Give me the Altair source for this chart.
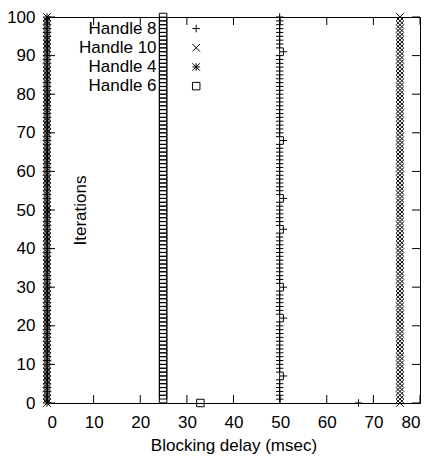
import altair as alt
import pandas as pd

# ---------------- data ----------------
iterations = list(range(101))

handle8 = [
    66.8, 49.9, 49.9, 49.9, 49.9, 49.9, 49.9, 50.7, 49.9, 49.9,
    49.9, 49.9, 49.9, 49.9, 49.9, 49.9, 49.9, 49.9, 49.9, 49.9,
    49.9, 49.9, 50.7, 49.9, 49.9, 49.9, 49.9, 49.9, 49.9, 49.9,
    50.7, 49.9, 49.9, 49.9, 49.9, 49.9, 49.9, 49.9, 49.9, 49.9,
    49.9, 49.9, 49.9, 49.9, 49.9, 50.7, 49.9, 49.9, 49.9, 49.9,
    49.9, 49.9, 49.9, 50.7, 49.9, 49.9, 49.9, 49.9, 49.9, 49.9,
    49.9, 49.9, 49.9, 49.9, 49.9, 49.9, 49.9, 49.9, 50.7, 49.9,
    49.9, 49.9, 49.9, 49.9, 49.9, 49.9, 49.9, 49.9, 49.9, 49.9,
    49.9, 49.9, 49.9, 49.9, 49.9, 49.9, 49.9, 49.9, 49.9, 49.9,
    49.9, 50.7, 49.9, 49.9, 49.9, 49.9, 49.9, 49.9, 49.9, 49.9,
    49.9,
]

handle10 = [
    75.7, 75.7, 75.7, 75.7, 75.7, 75.7, 75.7, 75.7, 75.7, 75.7,
    75.7, 75.7, 75.7, 75.7, 75.7, 75.7, 75.7, 75.7, 75.7, 75.7,
    75.7, 75.7, 75.7, 75.7, 75.7, 75.7, 75.7, 75.7, 75.7, 75.7,
    75.7, 75.7, 75.7, 75.7, 75.7, 75.7, 75.7, 75.7, 75.7, 75.7,
    75.7, 75.7, 75.7, 75.7, 75.7, 75.7, 75.7, 75.7, 75.7, 75.7,
    75.7, 75.7, 75.7, 75.7, 75.7, 75.7, 75.7, 75.7, 75.7, 75.7,
    75.7, 75.7, 75.7, 75.7, 75.7, 75.7, 75.7, 75.7, 75.7, 75.7,
    75.7, 75.7, 75.7, 75.7, 75.7, 75.7, 75.7, 75.7, 75.7, 75.7,
    75.7, 75.7, 75.7, 75.7, 75.7, 75.7, 75.7, 75.7, 75.7, 75.7,
    75.7, 75.7, 75.7, 75.7, 75.7, 75.7, 75.7, 75.7, 75.7, 75.7,
    75.7,
]

handle4 = [
    0, 0, 0, 0, 0, 0, 0, 0, 0, 0,
    0, 0, 0, 0, 0, 0, 0, 0, 0, 0,
    0, 0, 0, 0, 0, 0, 0, 0, 0, 0,
    0, 0, 0, 0, 0, 0, 0, 0, 0, 0,
    0, 0, 0, 0, 0, 0, 0, 0, 0, 0,
    0, 0, 0, 0, 0, 0, 0, 0, 0, 0,
    0, 0, 0, 0, 0, 0, 0, 0, 0, 0,
    0, 0, 0, 0, 0, 0, 0, 0, 0, 0,
    0, 0, 0, 0, 0, 0, 0, 0, 0, 0,
    0, 0, 0, 0, 0, 0, 0, 0, 0, 0,
    0,
]

handle6 = [
    32.9, 24.9, 24.9, 24.9, 24.9, 24.9, 24.9, 24.9, 24.9, 24.9,
    24.9, 24.9, 24.9, 24.9, 24.9, 24.9, 24.9, 24.9, 24.9, 24.9,
    24.9, 24.9, 24.9, 24.9, 24.9, 24.9, 24.9, 24.9, 24.9, 24.9,
    24.9, 24.9, 24.9, 24.9, 24.9, 24.9, 24.9, 24.9, 24.9, 24.9,
    24.9, 24.9, 24.9, 24.9, 24.9, 24.9, 24.9, 24.9, 24.9, 24.9,
    24.9, 24.9, 24.9, 24.9, 24.9, 24.9, 24.9, 24.9, 24.9, 24.9,
    24.9, 24.9, 24.9, 24.9, 24.9, 24.9, 24.9, 24.9, 24.9, 24.9,
    24.9, 24.9, 24.9, 24.9, 24.9, 24.9, 24.9, 24.9, 24.9, 24.9,
    24.9, 24.9, 24.9, 24.9, 24.9, 24.9, 24.9, 24.9, 24.9, 24.9,
    24.9, 24.9, 24.9, 24.9, 24.9, 24.9, 24.9, 24.9, 24.9, 24.9,
    24.9,
]

series_names = ["Handle 8", "Handle 10", "Handle 4", "Handle 6"]
series_values = [handle8, handle10, handle4, handle6]
x_ticks = [0, 10, 20, 30, 40, 50, 60, 70, 80]
y_ticks = [0, 10, 20, 30, 40, 50, 60, 70, 80, 90, 100]

# ---------------- build tables ----------------
rows = []
for name, vals in zip(series_names, series_values):
    for it, v in zip(iterations, vals):
        rows.append({"series": name, "delay": v, "iteration": it})
df = pd.DataFrame(rows)

legend_df = pd.DataFrame({"series": series_names, "rank": list(range(len(series_names)))})
xt_df = pd.DataFrame({"v": x_ticks})
yt_df = pd.DataFrame({"v": y_ticks})

# ---------------- styles ----------------
FONT = "Liberation Sans"
FS = 17
W, H = 373, 386
TICK = 8

PLUS = "M-1,0L1,0M0,-1L0,1"
CROSS = "M-1,-1L1,1M-1,1L1,-1"
STAR = "M-1,0L1,0M0,-1L0,1M-1,-1L1,1M-1,1L1,-1"

xs = alt.Scale(domain=[0, 80], nice=False, zero=False)
ys = alt.Scale(domain=[0, 100], nice=False, zero=False)
shape_scale = alt.Scale(domain=series_names, range=[PLUS, CROSS, STAR, "square"])

x_axis = alt.Axis(
    values=x_ticks, ticks=False, domain=False, grid=False,
    labelFont=FONT, labelFontSize=FS, labelPadding=11, labelColor="black",
    title="Blocking delay (msec)", titleFont=FONT, titleFontSize=FS,
    titleFontWeight="normal", titleColor="black", titlePadding=7,
)
y_axis = alt.Axis(
    values=y_ticks, ticks=False, domain=False, grid=False,
    labelFont=FONT, labelFontSize=FS, labelPadding=12, labelColor="black",
    title="Iterations", titleFont=FONT, titleFontSize=FS,
    titleFontWeight="normal", titleColor="black",
    titleX=33, titleY=H / 2, titleAngle=270, titleAlign="center",
    titleBaseline="middle",
)


def X(field):
    return alt.X(field, scale=xs, axis=x_axis)


def Y(field):
    return alt.Y(field, scale=ys, axis=y_axis)


points = alt.Chart(df).mark_point(
    filled=False, size=56, strokeWidth=1, color="black", opacity=1, clip=False
).encode(
    x=X("delay:Q"),
    y=Y("iteration:Q"),
    shape=alt.Shape("series:N", scale=shape_scale, legend=None),
)

legend_base = alt.Chart(legend_df).transform_calculate(
    ly="97.0 - 4.97 * datum.rank", lx="23.5", sx="32.0"
)
legend_text = legend_base.mark_text(
    align="right", baseline="middle", font=FONT, fontSize=FS, color="black"
).encode(
    x=X("lx:Q"),
    y=Y("ly:Q"),
    text="series:N",
)
legend_sym = legend_base.mark_point(
    filled=False, size=56, strokeWidth=1, color="black", opacity=1
).encode(
    x=X("sx:Q"),
    y=Y("ly:Q"),
    shape=alt.Shape("series:N", scale=shape_scale, legend=None),
)

rule_style = dict(color="black", strokeWidth=1)
bottom_ticks = alt.Chart(xt_df).mark_rule(**rule_style).encode(
    x=X("v:Q"), y=alt.value(H), y2=alt.value(H - TICK))
top_ticks = alt.Chart(xt_df).mark_rule(**rule_style).encode(
    x=X("v:Q"), y=alt.value(0), y2=alt.value(TICK))
left_ticks = alt.Chart(yt_df).mark_rule(**rule_style).encode(
    y=Y("v:Q"), x=alt.value(0), x2=alt.value(TICK))
right_ticks = alt.Chart(yt_df).mark_rule(**rule_style).encode(
    y=Y("v:Q"), x=alt.value(W), x2=alt.value(W - TICK))

chart = alt.layer(
    points, bottom_ticks, top_ticks, left_ticks, right_ticks, legend_text, legend_sym
).properties(
    width=W, height=H,
    autosize=alt.AutoSizeParams(type="none"),
    padding={"left": 39, "top": 9, "right": 2, "bottom": 52},
    background="white",
).configure_view(
    stroke="black", strokeWidth=1
)

chart.save("out.html", embed_options={"renderer": "svg", "actions": False})
